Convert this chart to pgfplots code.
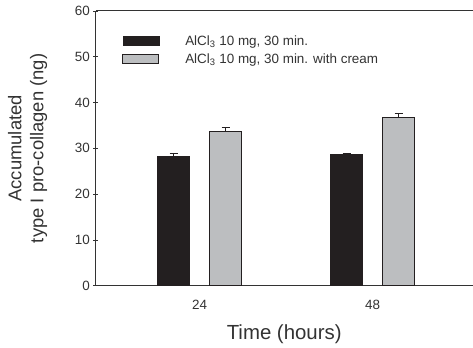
\documentclass[border=0pt]{standalone}
\usepackage{fontspec}
\setmainfont{Liberation Sans}
\usepackage{pgfplots}
\pgfplotsset{compat=1.18}
\definecolor{barblack}{HTML}{231F20}
\definecolor{bargray}{HTML}{BCBEC0}
\definecolor{axgray}{HTML}{333333}
\begin{document}
\begin{tikzpicture}[x=1bp,y=1bp]
\begin{axis}[
  scale only axis,
  width=377bp, height=275bp,
  xmin=-0.60, xmax=1.578,
  ymin=0, ymax=60,
  ytick={0,10,...,60},
  xtick={0,1}, xticklabels={24,48},
  x tick style={draw=none},
  y tick style={axgray, line width=0.8pt},
  major tick length=5bp,
  tick align=inside,
  axis x line=bottom, axis y line=left,
  axis line style={axgray, line width=1pt, -},
  ybar, bar width=32bp,
  /pgf/number format/assume math mode=true,
  tick label style={font=\fontsize{13.5}{15}\selectfont, text=axgray},
  xticklabel style={yshift=-6bp},
  xlabel={Time (hours)},
  xlabel style={font=\fontsize{20.5}{22}\selectfont, text=axgray, at={(axis description cs:0.5,-0.13)}, anchor=north},
  ylabel={Accumulated\\type I pro-collagen (ng)},
  ylabel style={font=\fontsize{18.5}{22}\selectfont, text=axgray, align=center, at={(axis description cs:-0.12,0.5)}, anchor=south},
  legend style={draw=none, fill=none, at={(axis description cs:0.062,0.925)}, anchor=north west,
    font=\fontsize{13.5}{16}\selectfont, text=axgray, row sep=3bp, legend cell align=left,
    /tikz/every odd column/.append style={column sep=24bp}},
  legend image code/.code={\draw[#1] (0bp,-4bp) rectangle (36bp,5bp);},
  clip=false,
]
\addplot+[ybar, bar shift=-26bp, fill=barblack, draw=barblack, line width=0.6pt,
  error bars/.cd, y dir=plus, y explicit, error bar style={barblack, line width=0.8pt}, error mark options={rotate=90, mark size=4bp, barblack, line width=0.8pt}]
  coordinates {(0,28.3) +- (0,0.6) (1,28.7) +- (0,0.15)};
\addplot+[ybar, bar shift=26bp, fill=bargray, draw=barblack, line width=0.9pt,
  error bars/.cd, y dir=plus, y explicit, error bar style={barblack, line width=0.8pt}, error mark options={rotate=90, mark size=4bp, barblack, line width=0.8pt}]
  coordinates {(0,33.7) +- (0,0.95) (1,36.8) +- (0,0.8)};
\addlegendentry{{AlCl\textsubscript{3} 10 mg, 30 min.}}
\addlegendentry{{AlCl\textsubscript{3} 10 mg, 30 min. with cream}}
\draw[axgray, line width=1pt] (rel axis cs:0,1) -- (rel axis cs:1,1);
\path (rel axis cs:0,0) ++(-96bp,-55bp) coordinate (bbA);
\path (rel axis cs:1,1) ++(0bp,11bp) coordinate (bbB);
\end{axis}
\useasboundingbox (bbA) rectangle (bbB);
\end{tikzpicture}
\end{document}
